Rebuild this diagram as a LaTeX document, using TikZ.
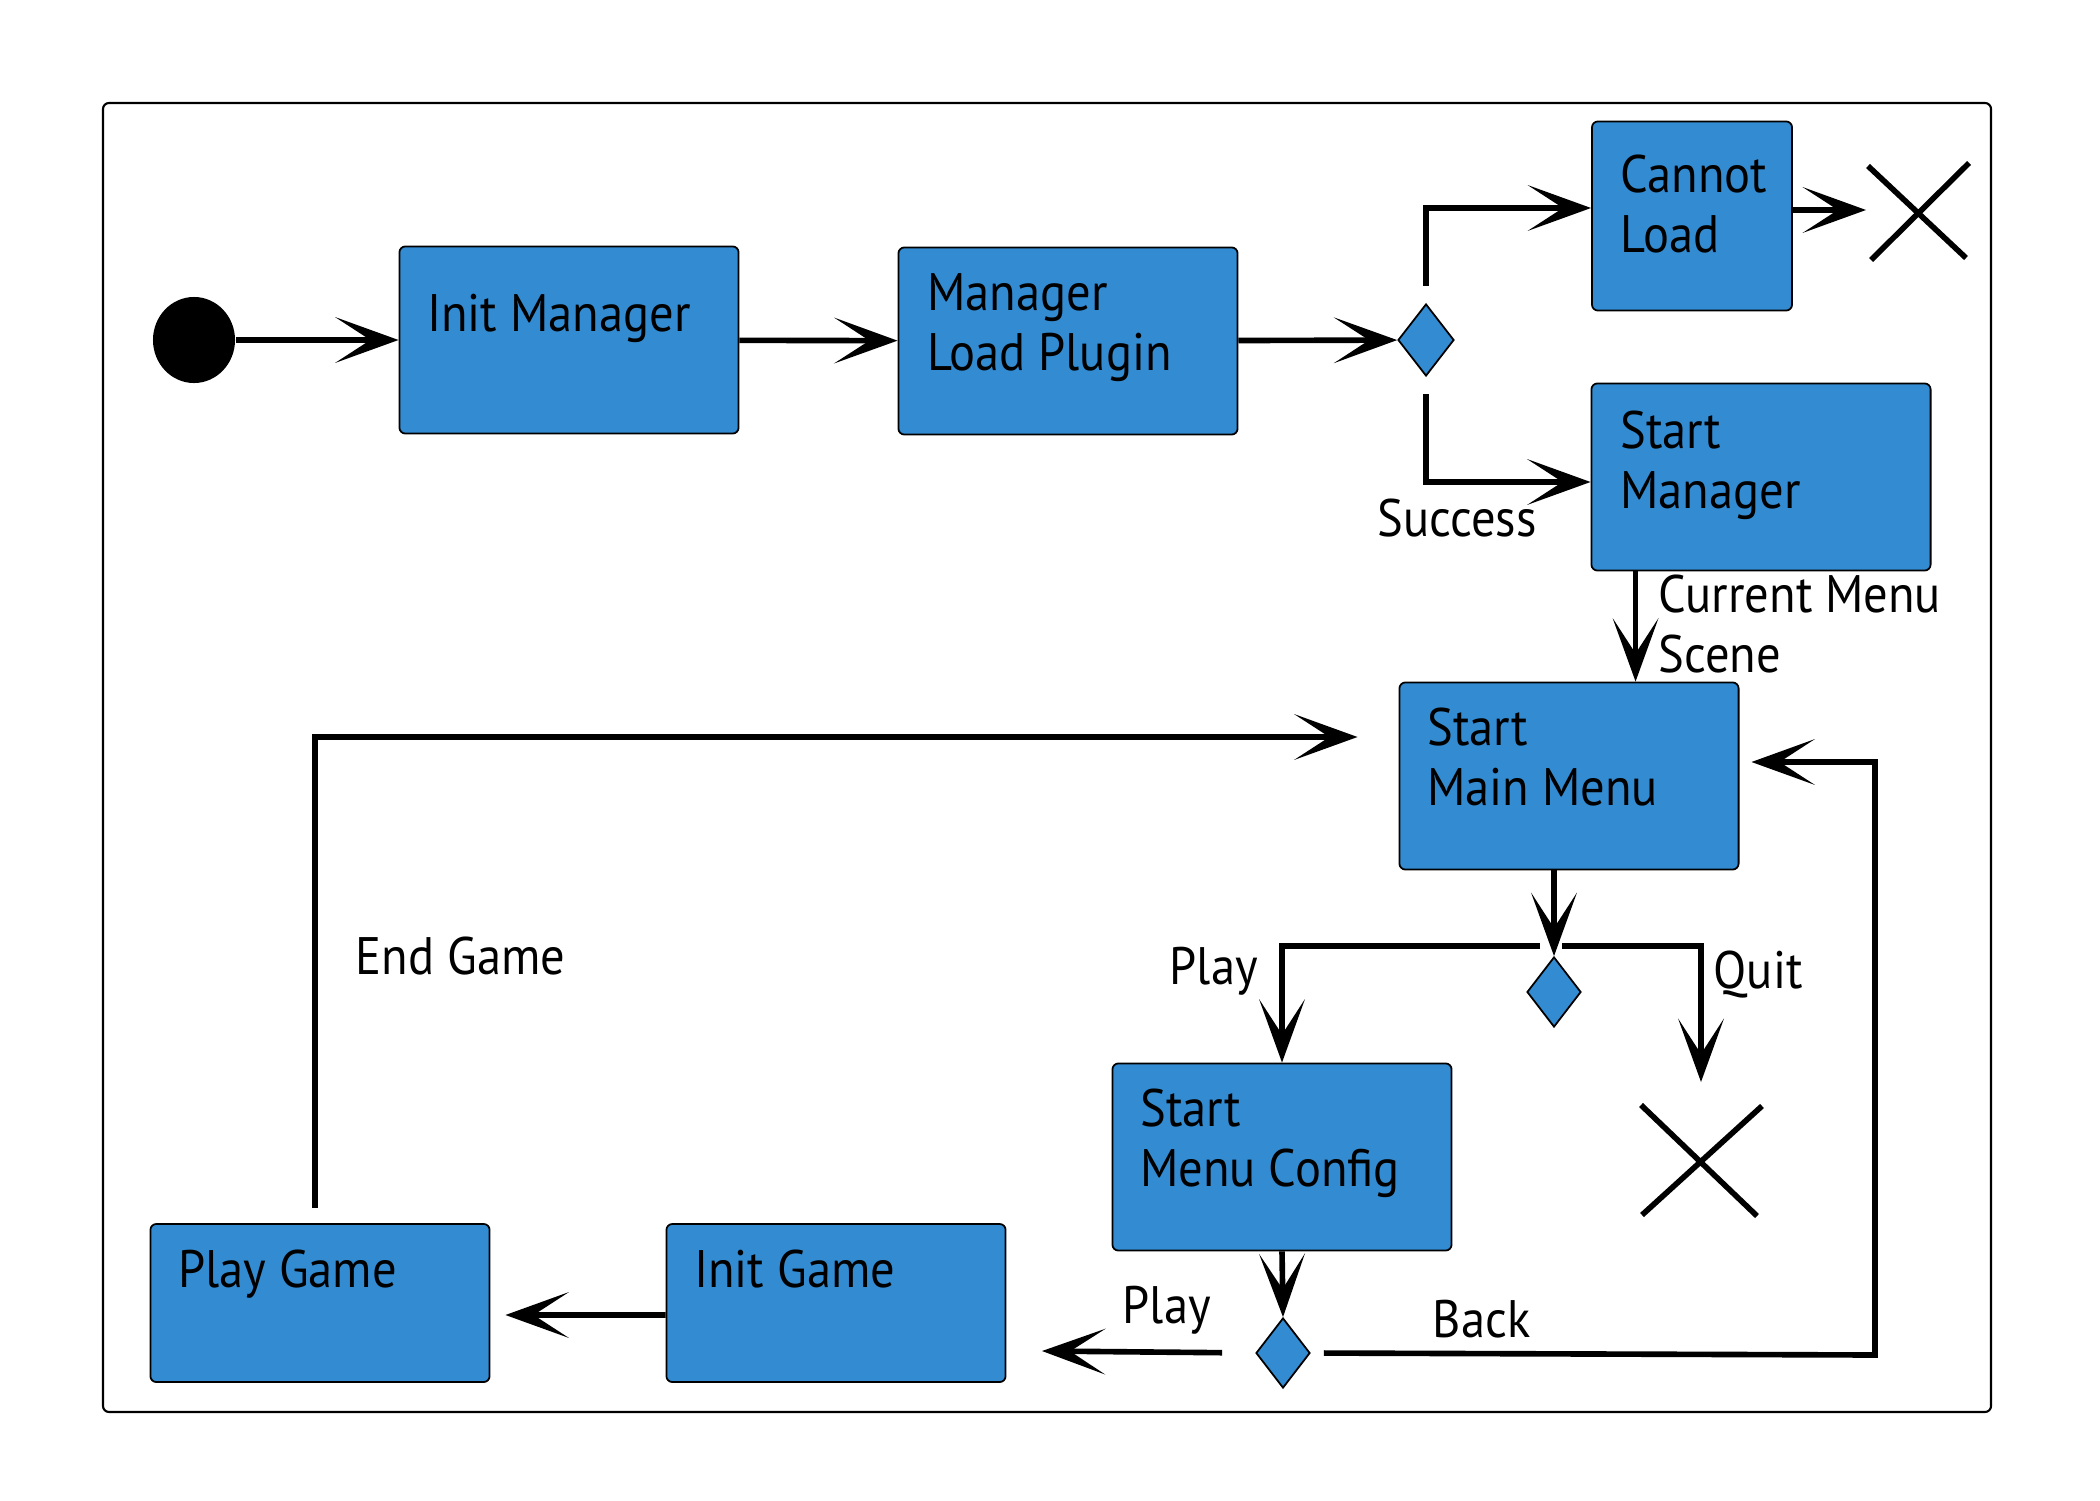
\documentclass[tikz,border=0pt]{standalone}
\usepackage{fontspec}
\setmainfont{PT Sans}[FakeStretch=0.92]
\usetikzlibrary{arrows.meta,shapes.geometric,positioning}
\definecolor{actblue}{RGB}{51,139,209}
\tikzset{
  act/.style={draw=black, line width=0.5pt, fill=actblue, rounded corners=0.06cm, minimum width=3.39cm, minimum height=1.87cm, inner sep=0pt},
  acttext/.style={anchor=base west, align=left, inner sep=0pt, font=\fontsize{15}{17}\selectfont},
  choice/.style={draw=black, line width=0.5pt, fill=actblue, diamond, minimum width=0.56cm, minimum height=0.72cm, inner sep=0pt},
  flow/.style={line width=1.6pt, -{Stealth[length=18pt,width=13pt,inset=10pt]}},
  lbl/.style={anchor=base west, inner sep=0pt, font=\fontsize{15}{17}\selectfont},
  cross/.style={line width=1.6pt}
}
\begin{document}
\begin{tikzpicture}[x=0.01cm,y=-0.01cm]
\useasboundingbox (0,0) rectangle (2100,1500);
%rahmen
\draw[line width=0.6pt, rounded corners=0.06cm] (103,103) rectangle (1991,1412);
%knoten
\node[ellipse, fill=black, minimum width=0.82cm, minimum height=0.86cm, inner sep=0pt] (start) at (194,340) {};
\node[act] (initm) at (569,340) {};
\node[act] (mlp) at (1068,341) {};
\node[choice] (dec1) at (1426,340) {};
\node[act, minimum width=2cm, minimum height=1.89cm] (cannot) at (1692,216) {};
\node[act] (startm) at (1761,477) {};
\node[act] (mainmenu) at (1569,776) {};
\node[choice, minimum width=0.54cm, minimum height=0.7cm] (dec2) at (1554,992) {};
\node[act] (menuconf) at (1282,1157) {};
\node[choice, minimum width=0.54cm, minimum height=0.7cm] (dec3) at (1283,1353) {};
\node[act, minimum height=1.58cm] (initg) at (836,1303) {};
\node[act, minimum height=1.58cm] (playg) at (320,1303) {};
%texte (base = letzte zeile)
\node[acttext] (initmtxt) at ([shift={(28,86)}]initm.north west) {Init Manager};
\node[acttext] (mlptxt) at ([shift={(29,124)}]mlp.north west) {Manager\\Load Plugin};
\node[acttext] (cannottxt) at ([shift={(29,132)}]cannot.north west) {Cannot\\Load};
\node[acttext] (startmtxt) at ([shift={(29,126)}]startm.north west) {Start\\Manager};
\node[acttext] (mainmenutxt) at ([shift={(28,124)}]mainmenu.north west) {Start\\Main Menu};
\node[acttext] (menuconftxt) at ([shift={(28,124)}]menuconf.north west) {Start\\Menu Config};
\node[acttext] (initgtxt) at ([shift={(28,64)}]initg.north west) {Init Game};
\node[acttext] (playgtxt) at ([shift={(28,64)}]playg.north west) {Play Game};
%ende
\coordinate (x1) at (1866,210);
\coordinate (x2) at (1701,1082);
\draw[cross] (1868,166) -- (1966,258) (1969,163) -- (1871,260);
\draw[cross] (1641,1105) -- (1757,1216) (1762,1106) -- (1642,1215);
%pfeile
\draw[flow] (start) -- (initm);
\draw[flow] (initm) -- (mlp);
\draw[flow] (mlp) -- (dec1);
\draw[flow, shorten <=5pt] (dec1.north) |- ([yshift=0.08cm]cannot.west);
\draw[flow, shorten <=5pt] (dec1.south) |- ([yshift=-0.05cm]startm.west);
\draw[flow] (cannot.east |- x1) -- (x1);
\draw[flow] ([xshift=0.45cm]startm.south west) -- ([xshift=0.45cm]startm.south west |- mainmenu.north);
\draw[flow] (mainmenu.south -| dec2) -- (dec2.north);
\coordinate (splitl) at (1540,946);
\coordinate (splitr) at (1562,946);
\draw[flow] (splitl) -| (menuconf.north);
\draw[flow] (splitr) -| (x2);
\draw[flow] (menuconf.south) -- (dec3.north);
\coordinate (playend) at (1042,1351);
\draw[flow, shorten <=0.33cm] (dec3.west) -- (playend);
\coordinate (backturn) at (1875,1355);
\draw[flow, shorten <=0.13cm] (dec3.east) -- (backturn) |- ([shift={(12,-14)}]mainmenu.east);
\draw[flow] ([yshift=-0.12cm]initg.west) -- ([shift={(15,12)}]playg.east);
\draw[flow] ([shift={(-5,-15)}]playg.north) |- ([shift={(-41,-39)}]mainmenu.west);
%beschriftung
\node[lbl] (success) at (1377,536) {Success};
\node[lbl, align=left] (curmenu) at (1658,672) {Current Menu\\Scene};
\node[lbl] (endgame) at (355,974) {End Game};
\node[lbl] (play1) at (1169,984) {Play};
\node[lbl] (quit) at (1713,988) {Quit};
\node[lbl] (play2) at (1122,1323) {Play};
\node[lbl] (back) at (1432,1337) {Back};
\end{tikzpicture}
\end{document}
